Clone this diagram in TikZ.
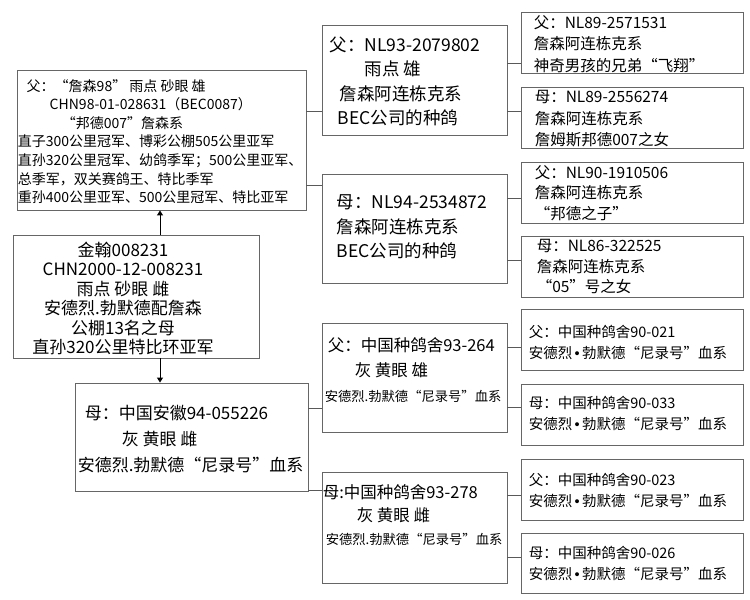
\documentclass[tikz,border=0pt]{standalone}
\usepackage{fontspec}
\setmainfont{Noto Sans CJK SC}
\newfontfamily\latinfont{Liberation Sans}
\usetikzlibrary{fit,arrows.meta}

\tikzset{
  box/.style={draw=black!60, line width=0.9pt, inner sep=0pt},
  txt/.style={anchor=north west, align=left, inner sep=0pt},
  link/.style={draw=black!65, line width=0.7pt},
  arr/.style={draw=black, line width=1pt, -{Triangle[length=5pt,width=6pt]}},
}
\newcommand{\fsz}[2]{\fontsize{#1}{#2}\selectfont}
\newcommand{\dotsep}{{\latinfont\,•\,}}

\begin{document}
\begin{tikzpicture}[x=1pt, y=-1pt]
  \useasboundingbox (0,0) rectangle (750,600);
  \coordinate (spine) at (160,0);

  % 本鸽
  \node[box, fit={(13,235) (259,358)}] (me) {};
  \node[txt, anchor=north, align=center, font=\fsz{17}{19.5}] (me-t)
    at ([shift={(-13,7)}]me.north)
    {金翰008231\\CHN2000-12-008231\\雨点\ 砂眼\ 雌\\安德烈.勃默德配詹森\\公棚13名之母\\直孙320公里特比环亚军};

  % 父
  \node[box, fit={(17,70) (306,210)}] (fa) {};
  \node[txt, font=\fsz{14}{18.6}] (fa-t) at ([shift={(1,9.4)}]fa.north west)
    {\hspace*{9pt}父：“詹森98”\ 雨点\ 砂眼\ 雄\\
     \hspace*{32pt}CHN98-01-028631（BEC0087）\\
     \hspace*{44pt}“邦德007”詹森系\\
     直子300公里冠军、博彩公棚505公里亚军\\
     直孙320公里冠军、幼鸽季军；500公里亚军、\\
     总季军，双关赛鸽王、特比季军\\
     重孙400公里亚军、500公里冠军、特比亚军};

  % 母
  \node[box, fit={(75,383) (308,491)}] (mo) {};
  \node[txt, font=\fsz{17}{26}] (mo-t) at ([shift={(3,22)}]mo.north west)
    {\hspace*{7pt}母：中国安徽94-055226\\
     \hspace*{44pt}灰\ 黄眼\ 雌\\
     安德烈.勃默德“尼录号”血系};

  \draw[arr] (me.north -| spine) -- (fa.south -| spine);
  \draw[arr] (me.south -| spine) -- (mo.north -| spine);

  % 祖父母
  \node[box, fit={(322,25) (507,135)}] (ff) {};
  \node[txt, font=\fsz{17.5}{24.5}] (ff-t) at ([shift={(8,12)}]ff.north west)
    {父：NL93-2079802\\
     \hspace*{35pt}雨点\ 雄\\
     \hspace*{10pt}詹森阿连栋克系\\
     \hspace*{8pt}BEC公司的种鸽};

  \node[box, fit={(322,174) (507,283)}] (fm) {};
  \node[txt, font=\fsz{17.5}{24.5}] (fm-t) at ([shift={(15,21)}]fm.north west)
    {母：NL94-2534872\\詹森阿连栋克系\\BEC公司的种鸽};

  \node[box, fit={(322,323) (507,432)}] (mf) {};
  \node[txt, font=\fsz{16.5}{25}] (mf-t) at ([shift={(3,15)}]mf.north west)
    {\hspace*{3pt}父：中国种鸽舍93-264\\
     \hspace*{30pt}灰\ 黄眼\ 雄\\
     {\fsz{13.3}{25}安德烈.勃默德“尼录号”血系}};

  \node[box, fit={(322,472) (507,583)}] (mm) {};
  \node[txt, font=\fsz{16.5}{23}] (mm-t) at ([shift={(1,13)}]mm.north west)
    {母:中国种鸽舍93-278\\
     \hspace*{34pt}灰\ 黄眼\ 雌\\
     \hspace*{3pt}{\fsz{13.3}{23}安德烈.勃默德“尼录号”血系}};

  % 曾祖父母
  \node[box, fit={(521,12) (743,73)}] (fff) {};
  \node[txt, font=\fsz{15.5}{21.5}] (fff-t) at ([shift={(13,3.5)}]fff.north west)
    {父：NL89-2571531\\詹森阿连栋克系\\神奇男孩的兄弟“飞翔”};
  \node[box, fit={(521,87) (743,148)}] (ffm) {};
  \node[txt, font=\fsz{15.5}{21.5}] (ffm-t) at ([shift={(14,3.5)}]ffm.north west)
    {母：NL89-2556274\\詹森阿连栋克系\\詹姆斯邦德007之女};
  \node[box, fit={(521,162) (743,223)}] (fmf) {};
  \node[txt, font=\fsz{15.5}{20.5}] (fmf-t) at ([shift={(14,3.5)}]fmf.north west)
    {父：NL90-1910506\\詹森阿连栋克系\\“邦德之子”};
  \node[box, fit={(521,236) (743,297)}] (fmm) {};
  \node[txt, font=\fsz{15.5}{20.5}] (fmm-t) at ([shift={(16,3.5)}]fmm.north west)
    {母：NL86-322525\\詹森阿连栋克系\\“05”号之女};

  \node[box, fit={(521,309) (743,370)}] (mff) {};
  \node[txt, font=\fsz{14.5}{21}] (mff-t) at ([shift={(8,16)}]mff.north west)
    {父：中国种鸽舍90-021\\安德烈\dotsep 勃默德“尼录号”血系};
  \node[box, fit={(521,384) (743,445)}] (mfm) {};
  \node[txt, font=\fsz{14.5}{21}] (mfm-t) at ([shift={(8,12)}]mfm.north west)
    {母：中国种鸽舍90-033\\安德烈\dotsep 勃默德“尼录号”血系};
  \node[box, fit={(521,459) (743,520)}] (mmf) {};
  \node[txt, font=\fsz{14.5}{21}] (mmf-t) at ([shift={(8,14)}]mmf.north west)
    {父：中国种鸽舍90-023\\安德烈\dotsep 勃默德“尼录号”血系};
  \node[box, fit={(521,533) (743,593)}] (mmm) {};
  \node[txt, font=\fsz{14.5}{21}] (mmm-t) at ([shift={(8,13)}]mmm.north west)
    {母：中国种鸽舍90-026\\安德烈\dotsep 勃默德“尼录号”血系};

  % 连线
  \draw[link] (fa.east |- 0,111) -- (ff.west |- 0,111);
  \draw[link] (fa.east |- 0,185) -- (fm.west |- 0,185);
  \draw[link] (mo.east |- 0,408) -- (mf.west |- 0,408);
  \draw[link] (mo.east |- 0,490) -- (mm.west |- 0,490);
  \draw[link] (ff.east |- 0,63) -- (fff.west |- 0,63);
  \draw[link] (ff.east |- 0,111) -- (ffm.west |- 0,111);
  \draw[link] (fm.east |- 0,198) -- (fmf.west |- 0,198);
  \draw[link] (fm.east |- 0,260) -- (fmm.west |- 0,260);
  \draw[link] (mf.east |- 0,347) -- (mff.west |- 0,347);
  \draw[link] (mf.east |- 0,407) -- (mfm.west |- 0,407);
  \draw[link] (mm.east |- 0,495) -- (mmf.west |- 0,495);
  \draw[link] (mm.east |- 0,557) -- (mmm.west |- 0,557);
\end{tikzpicture}
\end{document}
